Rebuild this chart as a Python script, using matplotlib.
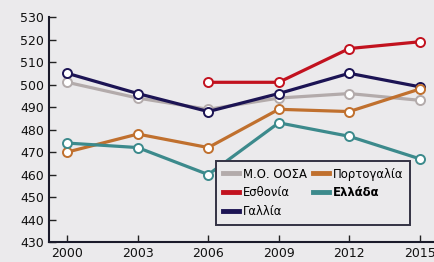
import matplotlib.pyplot as plt
from matplotlib.lines import Line2D

years = [2000, 2003, 2006, 2009, 2012, 2015]
oecd = [501, 494, 489, 494, 496, 493]
estonia_years = [2006, 2009, 2012, 2015]
estonia = [501, 501, 516, 519]
france = [505, 496, 488, 496, 505, 499]
portugal = [470, 478, 472, 489, 488, 498]
greece = [474, 472, 460, 483, 477, 467]

labels = ['Μ.Ο. ΟΟΣΑ', 'Εσθονία', 'Γαλλία', 'Πορτογαλία', 'Ελλάδα']
colours = ['#b3abab', '#c2121f', '#1c1454', '#c0702e', '#3c8a8c']
bg = '#ebeaec'

fig = plt.figure(figsize=(4.35, 2.62), dpi=100)
fig.patch.set_facecolor(bg)
ax = fig.add_axes([0.113, 0.076, 0.887, 0.859])
ax.set_facecolor(bg)

series = [(years, oecd), (estonia_years, estonia), (years, france),
          (years, portugal), (years, greece)]
for (xs, ys), c in zip(series, colours):
    ax.plot(xs, ys, color=c, lw=2.3, marker='o', markersize=6.5,
            markerfacecolor='white', markeredgecolor=c, markeredgewidth=1.4)

ax.set_xlim(1999.23, 2015.65)
ax.set_ylim(430, 530)
ax.set_xticks(years)
ax.set_yticks(range(430, 531, 10))
ax.tick_params(direction='in', length=5, width=1, colors='#222222',
               labelsize=9, labelcolor='#111111')
for s in ['top', 'right']:
    ax.spines[s].set_visible(False)
for s in ['left', 'bottom']:
    ax.spines[s].set_color('#1a1a2a')
    ax.spines[s].set_linewidth(1.5)

handles = [Line2D([], [], color=c, lw=3.5) for c in colours]
leg = ax.legend(handles, labels, ncol=2, loc='lower left',
                bbox_to_anchor=(0.432, 0.075), fontsize=8.4, frameon=True,
                fancybox=False, handlelength=1.4, handletextpad=0.35,
                columnspacing=0.45, labelspacing=0.5, borderpad=0.6,
                borderaxespad=0)
leg.get_frame().set_edgecolor('#333344')
leg.get_frame().set_facecolor(bg)
leg.get_frame().set_alpha(1)
leg.get_frame().set_linewidth(1.4)
leg.get_texts()[4].set_fontweight('bold')

fig.savefig('out.png', dpi=100, facecolor=bg)
